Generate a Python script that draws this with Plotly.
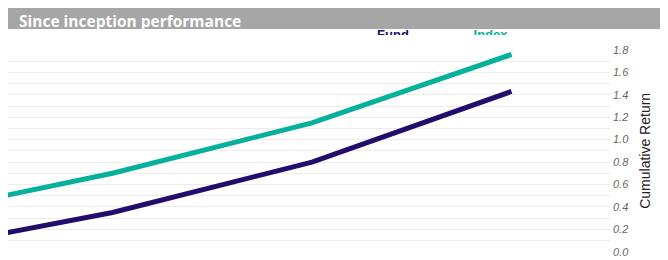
import plotly.graph_objects as go

# ---- data ----
periods = [2021, 2022, 2023, 2024]
fund = [0.01, 0.35, 0.80, 1.43]
index = [0.33, 0.70, 1.15, 1.76]
series_names = ["Fund", "Index"]
y_ticks = [0.0, 0.2, 0.4, 0.6, 0.8, 1.0, 1.2, 1.4, 1.6, 1.8]
y_tick_labels = ["0.0", "0.2", "0.4", "0.6", "0.8", "1.0", "1.2", "1.4", "1.6", "1.8"]
title_text = "Since inception performance"
y_title = "Cumulative Return"

FUND_C = "#220d6c"
INDEX_C = "#06b19c"

# page offset of the figure inside the browser page (body margin)
OX, OY = 8, 8
W, H = 668 - OX, 260 - OY

def px_x(p):  # page pixel x -> paper fraction
    return (p - OX) / W

def px_y(p):  # page pixel y -> paper fraction
    return 1 - (p - OY) / H

# x mapping: data positions on page at -87 + 199.5*k
def page_to_x(p):
    return periods[0] + (p + 87) / 199.5

fig = go.Figure()
fig.add_trace(go.Scatter(x=periods, y=fund, mode="lines", name=series_names[0],
                         line=dict(color=FUND_C, width=5), showlegend=False))
fig.add_trace(go.Scatter(x=periods, y=index, mode="lines", name=series_names[1],
                         line=dict(color=INDEX_C, width=5), showlegend=False))

# clipped legend labels (only top strip visible, as in the reference)
fig.add_trace(go.Scatter(x=[393, 490.5], y=[29.5, 29.5], mode="text",
                         text=series_names, textposition="bottom center",
                         textfont=dict(family="Liberation Sans, Arial", size=13,
                                       color=[FUND_C, INDEX_C], weight="bold"),
                         cliponaxis=True, showlegend=False, hoverinfo="skip",
                         xaxis="x2", yaxis="y2"))

fig.update_layout(
    width=W, height=H,
    margin=dict(l=0, r=0, t=0, b=0, autoexpand=False),
    paper_bgcolor="white", plot_bgcolor="white",
    xaxis=dict(domain=[0, px_x(610)], range=[page_to_x(OX), page_to_x(610)],
               showticklabels=False, showgrid=False, zeroline=False, showline=False,
               ticks="", automargin=False),
    yaxis=dict(domain=[px_y(251.7), px_y(50)], range=[0, 1.8], side="right",
               tickvals=y_ticks, ticktext=y_tick_labels, automargin=False,
               tickfont=dict(family="Liberation Sans, Arial", size=11, color="#666666",
                             style="italic"),
               ticklabelstandoff=2,
               showgrid=True, gridcolor="#ececec", gridwidth=1, zeroline=False,
               minor=dict(dtick=0.1, showgrid=True, gridcolor="#ececec", gridwidth=1),
               title=dict(text=y_title, standoff=12,
                          font=dict(family="Liberation Sans, Arial", size=14, color="#222222"))),
    xaxis2=dict(domain=[0, 1], range=[OX, 668], visible=False, anchor="y2", automargin=False),
    yaxis2=dict(domain=[px_y(35), px_y(29)], range=[35, 29], visible=False, anchor="x2",
                automargin=False),
    shapes=[dict(type="rect", xref="paper", yref="paper", x0=0, x1=1,
                 y0=px_y(29), y1=1, fillcolor="#a6a6a6", line=dict(width=0),
                 layer="above")],
    annotations=[dict(text="<b>" + title_text + "</b>", xref="paper", yref="paper",
                      x=px_x(18), y=px_y(8.5), xanchor="left", yanchor="top",
                      showarrow=False, borderpad=0,
                      font=dict(family="Open Sans", size=15.5, color="white"))],
)

fig.write_html("out.html")
